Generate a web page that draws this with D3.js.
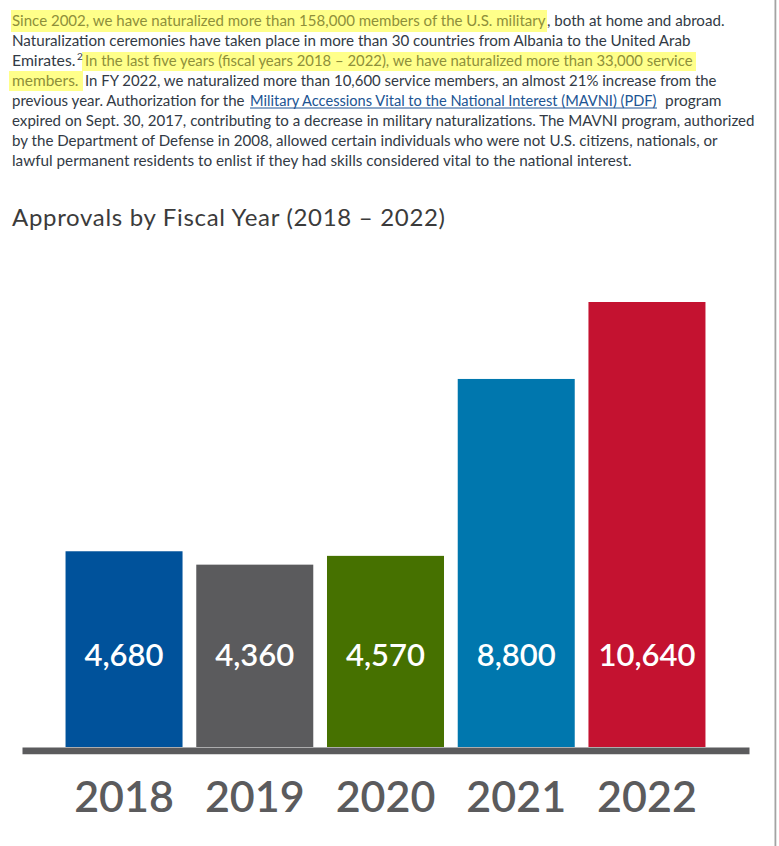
<!DOCTYPE html>
<html><head><meta charset="utf-8">
<script src="https://cdn.jsdelivr.net/npm/d3@7"></script>
<style>
html,body{margin:0;padding:0;background:#fff;}
svg{display:block;}
</style></head>
<body>
<div id="chart"></div>
<script>
// ---- data ----
const years = ["2018", "2019", "2020", "2021", "2022"];
const approvals = [4680, 4360, 4570, 8800, 10640];
const barColors = ["#00529b", "#5b5b5d", "#467100", "#0077ae", "#c41230"];
const titleText = "Approvals by Fiscal Year (2018 \u2013 2022)";

const W = 779, H = 846;
const svg = d3.select("#chart").append("svg").attr("width", W).attr("height", H);

// ---- paragraph ----
const FONT = "Lato, 'Noto Sans', sans-serif";
const textColor = "#323a45", hlText = "#8e8f3a", linkColor = "#205493", hlFill = "#ffff8a";
const lines = [
  [{t:"Since 2002, we have naturalized more than 158,000 members of the U.S. military", x0:12, x1:546, hl:true},
   {t:", both at home and abroad.", x0:547, x1:725}],
  [{t:"Naturalization ceremonies have taken place in more than 30 countries from Albania to the United Arab", x0:12, x1:691}],
  [{t:"Emirates.", x0:12, x1:76},
   {t:"2", sup:true, x0:77, x1:81},
   {t:"In the last five years (fiscal years 2018 \u2013 2022), we have naturalized more than 33,000 service", x0:85, x1:693, hl:true}],
  [{t:"members.", x0:12, x1:79, hl:true},
   {t:"In FY 2022, we naturalized more than 10,600 service members, an almost 21% increase from the", x0:85, x1:717}],
  [{t:"previous year. Authorization for the", x0:12, x1:245},
   {t:"Military Accessions Vital to the National Interest (MAVNI) (PDF)", x0:250, x1:657, link:true},
   {t:"program", x0:665, x1:722}],
  [{t:"expired on Sept. 30, 2017, contributing to a decrease in military naturalizations. The MAVNI program, authorized", x0:12, x1:755}],
  [{t:"by the Department of Defense in 2008, allowed certain individuals who were not U.S. citizens, nationals, or", x0:12, x1:718}],
  [{t:"lawful permanent residents to enlist if they had skills considered vital to the national interest.", x0:12, x1:632}]
];
const highlights = [
  {x0:11, x1:547, y0:10, y1:32},
  {x0:82, x1:696, y0:52, y1:71},
  {x0:9, x1:83, y0:71, y1:91}
];
const para = svg.append("g");
para.selectAll("rect.hl").data(highlights).join("rect").attr("class","hl")
  .attr("x", d => d.x0).attr("y", d => d.y0)
  .attr("width", d => d.x1 - d.x0).attr("height", d => d.y1 - d.y0)
  .attr("fill", hlFill);

// shrink font so the natural width fits, then stretch spacing to the exact width
function fitText(sel, baseSize, w, minSize){
  sel.attr("font-size", baseSize);
  const nat = sel.node().getComputedTextLength();
  let fs = baseSize;
  if (nat > w) fs = Math.max(minSize, baseSize * w / nat);
  sel.attr("font-size", fs);
  const nat2 = sel.node().getComputedTextLength();
  if (nat2 < w) sel.attr("textLength", w).attr("lengthAdjust", "spacing");
}
lines.forEach((segs, i) => {
  const base = 25.5 + 20 * i;
  segs.forEach(s => {
    const t = para.append("text")
      .attr("x", s.x0)
      .attr("y", s.sup ? base - 6 : base)
      .attr("font-family", FONT)
      .attr("fill", s.hl ? hlText : (s.link ? linkColor : textColor))
      .text(s.t);
    if (s.sup) t.attr("font-size", 10);
    else fitText(t, 15.8, s.x1 - s.x0 - 0.5, 13.5);
    if (s.link) {
      para.append("line").attr("x1", s.x0).attr("x2", s.x1)
        .attr("y1", base + 2.5).attr("y2", base + 2.5)
        .attr("stroke", linkColor).attr("stroke-width", 1);
    }
  });
});

// ---- title ----
const title = svg.append("text")
  .attr("x", 12).attr("y", 226)
  .attr("font-family", FONT).attr("font-weight", 400)
  .attr("fill", "#3b3b3b").text(titleText);
fitText(title, 24, 433, 20);

// ---- chart ----
const x = d3.scaleBand().domain(years).range([22, 749])
  .paddingInner(0.105).paddingOuter(0.333);
const y = d3.scaleLinear().domain([0, 10640]).range([747, 302]);
const color = d3.scaleOrdinal().domain(years).range(barColors);
const data = years.map((yr, i) => ({year: yr, value: approvals[i]}));

svg.append("g").selectAll("rect").data(data).join("rect")
  .attr("x", d => x(d.year)).attr("y", d => y(d.value))
  .attr("width", x.bandwidth()).attr("height", d => y(0) - y(d.value))
  .attr("fill", d => color(d.year));

svg.append("g").selectAll("text").data(data).join("text")
  .attr("x", d => x(d.year) + x.bandwidth() / 2)
  .attr("y", y(0) - 81)
  .attr("text-anchor", "middle")
  .attr("font-family", FONT).attr("font-size", 31).attr("font-weight", 600)
  .attr("fill", "#fff")
  .text(d => d3.format(",")(d.value));

// axis: thick baseline + year labels
const axis = svg.append("g")
  .attr("transform", `translate(0,${y(0) + 3.4})`)
  .call(d3.axisBottom(x).tickSize(0).tickSizeOuter(0));
axis.select(".domain").attr("stroke", "#5b5b5d").attr("stroke-width", 6.8);
axis.selectAll("text")
  .attr("y", 62).attr("dy", 0)
  .attr("font-family", FONT).attr("font-size", 43).attr("font-weight", 600)
  .attr("fill", "#5b5b5d");

// right page border line
svg.append("rect").attr("x", 774.5).attr("y", 0).attr("width", 1.8).attr("height", H).attr("fill", "#a3a3a3");
</script>
</body></html>
